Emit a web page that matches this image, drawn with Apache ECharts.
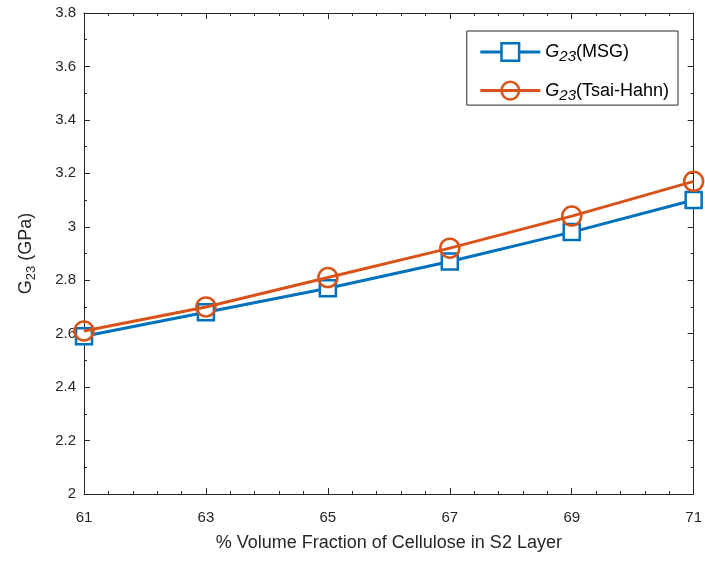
<!DOCTYPE html>
<html><head><meta charset="utf-8">
<script src="https://cdn.jsdelivr.net/npm/echarts@6/dist/echarts.min.js"></script>
<style>html,body{margin:0;padding:0;background:#fff}#c{width:705px;height:561px}</style>
</head><body><div id="c"></div>
<script>
const xValues = [61, 63, 65, 67, 69, 71];
const msgValues = [2.59, 2.68, 2.77, 2.87, 2.98, 3.10];
const tsaiValues = [2.61, 2.70, 2.81, 2.92, 3.04, 3.17];
const seriesNames = ['G23(MSG)', 'G23(Tsai-Hahn)'];
const legendLabels = {'G23(MSG)': '{i|G}{s|23}{n|(MSG)}', 'G23(Tsai-Hahn)': '{i|G}{s|23}{n|(Tsai-Hahn)}'};

const FONT = 'Liberation Sans, Arial, sans-serif';
const axisCol = '#262626';
const chart = echarts.init(document.getElementById('c'));
const baseAxis = {
  type: 'value',
  axisLine: {show: true, lineStyle: {color: axisCol, width: 1}},
  axisTick: {show: true, inside: true, length: 6, lineStyle: {color: axisCol}},
  minorTick: {show: true, length: 3, lineStyle: {color: axisCol}},
  splitLine: {show: false},
  minorSplitLine: {show: false}
};
function pairs(vals){ return xValues.map((x,i)=>[x, vals[i]]); }
chart.setOption({
  animation: false,
  backgroundColor: '#fff',
  grid: {left: 84, right: 11, top: 13, bottom: 67},
  legend: {
    right: 27, top: 31, orient: 'vertical',
    padding: [11, 9, 2, 12],
    itemGap: 16, itemWidth: 60, itemHeight: 22,
    borderColor: '#262626', borderWidth: 1, backgroundColor: '#fff',
    data: seriesNames,
    formatter: n => legendLabels[n],
    itemStyle: {borderWidth: 2.5},
    lineStyle: {width: 3},
    textStyle: {
      fontFamily: FONT, fontSize: 18, color: '#000',
      rich: {
        i: {fontStyle: 'italic', fontFamily: FONT, fontSize: 18, color: '#000'},
        s: {fontStyle: 'italic', fontFamily: FONT, fontSize: 15, color: '#000', padding: [10,0,0,0]},
        n: {fontFamily: FONT, fontSize: 18, color: '#000'}
      }
    }
  },
  xAxis: [
    Object.assign({}, baseAxis, {
      min: 61, max: 71, interval: 2,
      minorTick: Object.assign({}, baseAxis.minorTick, {splitNumber: 5}),
      axisLabel: {color: axisCol, fontFamily: FONT, fontSize: 15, margin: 16},
      name: '% Volume Fraction of Cellulose in S2 Layer',
      nameLocation: 'middle', nameGap: 40,
      nameTextStyle: {color: axisCol, fontFamily: FONT, fontSize: 18}
    }),
    Object.assign({}, baseAxis, {
      position: 'top', min: 61, max: 71, interval: 2,
      minorTick: Object.assign({}, baseAxis.minorTick, {splitNumber: 5}),
      axisLabel: {show: false}
    })
  ],
  yAxis: [
    Object.assign({}, baseAxis, {
      min: 2, max: 3.8, interval: 0.2,
      minorTick: Object.assign({}, baseAxis.minorTick, {splitNumber: 2}),
      axisLabel: {color: axisCol, fontFamily: FONT, fontSize: 15, margin: 8,
        formatter: v => String(Math.round(v*10)/10)},
      name: '{n|G}{s|23}{n| (GPa)}',
      nameLocation: 'middle', nameGap: 46, nameRotate: 90,
      nameTextStyle: {
        color: axisCol, fontFamily: FONT, fontSize: 18,
        rich: {
          s: {fontFamily: FONT, fontSize: 13, color: axisCol, padding: [10,0,0,0]},
          n: {fontFamily: FONT, fontSize: 18, color: axisCol}
        }
      }
    }),
    Object.assign({}, baseAxis, {
      position: 'right', min: 2, max: 3.8, interval: 0.2,
      minorTick: Object.assign({}, baseAxis.minorTick, {splitNumber: 2}),
      axisLabel: {show: false}
    })
  ],
  series: [
    {
      name: seriesNames[0], type: 'line', data: pairs(msgValues),
      symbol: 'rect', symbolSize: 16, showAllSymbol: true,
      lineStyle: {color: '#0072BD', width: 3},
      itemStyle: {color: '#fff', borderColor: '#0072BD', borderWidth: 2.5},
      color: '#0072BD', z: 2
    },
    {
      name: seriesNames[1], type: 'line', data: pairs(tsaiValues),
      symbol: 'circle', symbolSize: 19, showAllSymbol: true,
      lineStyle: {color: '#D95319', width: 3},
      itemStyle: {color: 'rgba(255,255,255,0)', borderColor: '#D95319', borderWidth: 2.5},
      color: '#D95319', z: 3
    }
  ]
});
</script>
</body></html>
